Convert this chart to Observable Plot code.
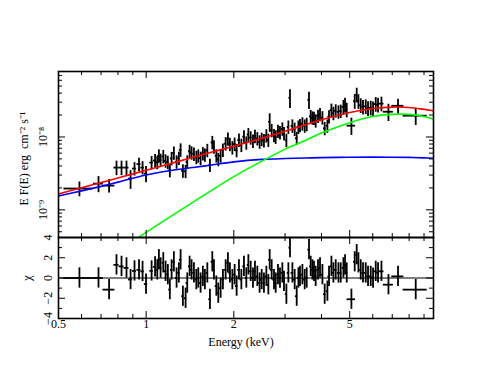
<!DOCTYPE html>
<html><head><meta charset="utf-8">
<script src="https://cdn.jsdelivr.net/npm/d3@7"></script>
<script src="https://cdn.jsdelivr.net/npm/@observablehq/plot@0.6"></script>
<style>
body{margin:0;background:#fff;}
#chart{position:relative;width:491px;height:379px;}
#chart svg{position:absolute;left:0;top:0;}
</style></head><body><div id="chart"></div>
<script>
// ---------------- data ----------------
const FLUX_UNIT = 1e-9; // flux arrays are in units of 1e-9 erg cm^-2 s^-1

const energy = [
0.590,0.686,0.746,0.791,0.823,0.856,0.884,0.912,0.945,0.972,0.999,1.044,1.073,
1.092,1.106,1.121,1.145,1.166,1.187,1.206,1.223,1.245,1.272,1.295,1.313,1.337,1.366,1.384,1.410,1.432,1.459,1.487,1.510,1.538,1.566,1.591,1.622,1.656,1.687,1.709,1.742,1.769,1.802,1.835,1.875,1.909,1.939,1.977,2.013,2.045,2.083,2.123,2.167,2.208,2.244,
2.285,2.327,2.364,2.409,2.453,2.493,2.538,2.587,2.628,2.656,2.698,2.748,2.785,2.836,2.881,2.936,2.974,3.031,3.079,3.118,3.178,3.236,3.288,3.333,3.375,3.440,3.503,3.559,3.624,3.673,3.723,3.770,3.821,3.892,3.954,4.030,4.103,4.192,4.246,4.327,4.396,4.477,4.574,4.658,
4.758,4.819,4.884,5.068,5.202,5.285,5.357,5.455,5.555,5.676,5.780,5.905,6.014,6.143,6.256,6.427,6.793,7.327,8.428];

const binHalfWidth = [
0.068,0.027,0.035,0.016,0.016,0.017,0.014,0.014,0.015,0.013,0.013,0.014,0.014,
0.011,0.011,0.011,0.011,0.011,0.011,0.011,0.011,0.011,0.011,0.011,0.013,0.013,0.013,0.013,0.013,0.013,0.013,0.013,0.013,0.013,0.013,0.013,0.016,0.016,0.016,0.016,0.016,0.016,0.016,0.016,0.016,0.016,0.016,0.016,0.020,0.020,0.020,0.020,0.020,0.020,0.020,
0.023,0.023,0.023,0.023,0.023,0.023,0.023,0.023,0.023,0.023,0.027,0.027,0.027,0.027,0.027,0.027,0.027,0.027,0.027,0.027,0.032,0.032,0.032,0.032,0.032,0.032,0.032,0.032,0.032,0.032,0.038,0.038,0.038,0.038,0.038,0.038,0.038,0.038,0.038,0.038,0.043,0.043,0.043,0.043,
0.046,0.046,0.046,0.170,0.045,0.045,0.047,0.048,0.050,0.052,0.053,0.055,0.057,0.060,0.060,0.130,0.270,0.350,0.800];

const flux = [
1.96,2.29,2.15,3.80,3.80,3.80,2.68,3.68,4.24,3.80,3.14,4.45,4.74,
4.49,5.50,4.80,5.40,4.70,4.50,3.47,5.08,6.04,4.56,5.12,6.65,3.43,3.38,4.56,6.36,6.06,5.83,5.26,5.51,5.12,5.92,5.67,6.55,4.10,8.42,7.34,5.53,4.93,5.53,6.60,8.09,9.42,7.94,7.15,7.99,6.55,9.06,7.71,10.1,8.30,10.8,
9.77,8.81,10.2,9.50,8.57,9.31,8.93,10.4,9.05,16.2,12.3,10.5,10.0,12.0,11.5,12.9,11.2,9.01,13.7,34.5,14.2,12.8,9.60,13.7,14.4,15.2,14.2,14.9,32.4,19.2,18.3,18.1,16.7,19.3,20.4,18.4,13.1,14.2,19.0,23.4,21.1,22.9,22.1,22.7,
25.8,27.7,23.7,14.3,31.0,38.0,31.0,27.2,25.9,26.3,24.8,25.2,24.6,28.3,27.6,28.7,22.2,26.8,19.6];

const fluxErr = [
0.45,0.57,0.45,0.86,0.86,0.86,0.77,0.77,0.88,0.79,0.78,0.93,0.99,
0.94,1.15,1.00,1.13,0.98,0.94,0.72,1.06,1.26,0.95,1.07,1.39,0.72,0.70,0.95,1.33,1.26,1.22,1.10,1.15,1.07,1.23,1.18,1.37,0.85,1.76,1.53,1.15,1.03,1.15,1.38,1.69,1.96,1.66,1.49,1.67,1.37,1.89,1.61,2.11,1.73,2.25,
2.04,1.84,2.13,1.98,1.79,1.94,1.86,2.17,1.89,4.60,2.56,2.19,2.09,2.50,2.40,2.69,2.34,1.88,2.86,9.90,2.96,2.67,2.00,2.86,3.00,3.17,2.96,3.11,8.60,4.00,3.82,3.77,3.48,4.02,4.25,3.84,2.73,2.96,3.96,4.88,4.40,4.77,4.61,4.73,
5.87,6.30,5.39,3.80,7.06,8.65,7.06,6.19,5.89,5.99,5.64,5.74,5.60,6.44,6.28,6.53,5.90,6.10,5.20];

const chi = [
0.0,0.0,-1.15,1.3,1.15,1.0,-0.15,0.7,0.8,0.65,-0.6,0.7,1.1,
0.8,1.8,1.0,1.5,0.66,0.33,-1.15,0.8,1.6,0,0.5,1.8,-1.8,-2.0,-0.5,1.15,0.8,0.5,-0.16,0,-0.5,0.16,-0.16,0.5,-2.1,1.6,0.8,-0.8,-1.5,-1.0,-0.16,0.8,1.5,0.5,-0.16,0.33,-0.8,0.8,-0.16,1.15,0,1.3,
0.66,0,0.66,0.16,-0.5,-0.16,-0.5,0.16,-0.66,1.8,0.8,-0.16,-0.5,0.33,0,0.5,-0.33,-1.6,0.5,3.0,0.5,-0.16,-1.8,0,0.16,0.33,-0.16,0,2.8,1.15,0.8,0.66,0.16,0.8,1.0,0.33,-1.6,-1.3,0.16,1.15,0.5,0.8,0.5,0.5,
1.0,1.3,0.5,-2.1,1.6,2.3,1.5,0.8,0.5,0.5,0.16,0.16,0,0.66,0.5,0.66,-0.66,0.16,-1.15];

// model components
const modelEnergy   = [0.5,0.6,0.7,0.8,1.0,1.3,1.6,2.0,2.5,3.0,3.5,4.0,5.0,6.0,7.0,8.0,9.0,9.7];
const totalModel    = [1.65,2.01,2.37,2.74,3.50,4.66,5.87,7.48,9.63,12.0,14.6,17.2,21.7,24.6,25.7,25.4,23.9,22.9];
const powerlawModel = [1.55,1.82,2.10,2.40,3.01,3.60,4.01,4.55,4.92,5.06,5.14,5.21,5.27,5.29,5.27,5.24,5.17,5.11];
const bbodyEnergy   = [0.8,1.0,1.3,1.6,2.0,2.5,3.0,3.5,4.0,5.0,6.0,7.0,8.0,9.0,9.7];
const bbodyModel    = [0.267,0.490,0.966,1.64,2.86,4.66,6.81,8.90,11.3,15.7,19.1,20.4,20.4,19.1,17.6];

// axes
const xDomain = [0.5, 9.7];
const fluxDomain = [4.17e-10, 7.92e-8];
const chiDomain = [-4, 4];
const xMajor = [0.5, 1, 2, 5];
const xTickLabels = ["0.5", "1", "2", "5"];
const xMinor = [0.6, 0.7, 0.8, 0.9, 3, 4, 6, 7, 8, 9];
const fluxMajor = [1e-9, 1e-8];
const fluxTickLabels = ["10\u207B\u2079", "10\u207B\u2078"];
const fluxMinor = [5e-10,6e-10,7e-10,8e-10,9e-10,2e-9,3e-9,4e-9,5e-9,6e-9,7e-9,8e-9,9e-9,2e-8,3e-8,4e-8,5e-8,6e-8,7e-8];
const chiMajor = [-4, -2, 0, 2, 4];
const chiTickLabels = ["\u22124", "\u22122", "0", "2", "4"];
const chiMinor = [-3, -1, 1, 3];
const xLabel = "Energy (keV)";
const fluxLabel = "E F(E) erg  cm\u207B\u00B2 s\u207B\u00B9";
const chiLabel = "\u03C7";

// ---------------- layout ----------------
const W = 491, H = 379, ML = 58, MR = 58, TOP = 71, MID = 237, BOT = 318;
const fw = W - ML - MR, fhTop = MID - TOP, fhBot = BOT - MID;
const MAJ = 7, MIN = 4;
const font = "'Liberation Serif','Times New Roman',serif";

const pts = energy.map((e, i) => ({
  e, lo: e - binHalfWidth[i], hi: e + binHalfWidth[i],
  f: flux[i] * FLUX_UNIT, s: fluxErr[i] * FLUX_UNIT, chi: chi[i]
}));
const totalPts = modelEnergy.map((e, i) => ({e, f: totalModel[i] * FLUX_UNIT}));
const plPts = modelEnergy.map((e, i) => ({e, f: powerlawModel[i] * FLUX_UNIT}));
const bbPts = bbodyEnergy.map((e, i) => ({e, f: bbodyModel[i] * FLUX_UNIT}));

function frameTicks(fh, yMajor, yMinor) {
  const sw = 1;
  return [
    Plot.tickX(xMajor, {x: d => d, insetTop: fh - MAJ, strokeWidth: sw}),
    Plot.tickX(xMinor, {x: d => d, insetTop: fh - MIN, strokeWidth: sw}),
    Plot.tickX(xMajor, {x: d => d, insetBottom: fh - MAJ, strokeWidth: sw}),
    Plot.tickX(xMinor, {x: d => d, insetBottom: fh - MIN, strokeWidth: sw}),
    Plot.tickY(yMajor, {y: d => d, insetRight: fw - MAJ, strokeWidth: sw}),
    Plot.tickY(yMinor, {y: d => d, insetRight: fw - MIN, strokeWidth: sw}),
    Plot.tickY(yMajor, {y: d => d, insetLeft: fw - MAJ, strokeWidth: sw}),
    Plot.tickY(yMinor, {y: d => d, insetLeft: fw - MIN, strokeWidth: sw})
  ];
}

const style = {fontFamily: font, fontSize: "12px", background: "transparent", overflow: "visible"};
const BAR = 1.8;

const topPlot = Plot.plot({
  width: W, height: H,
  marginLeft: ML, marginRight: MR, marginTop: TOP, marginBottom: H - MID,
  x: {type: "log", domain: xDomain, axis: null},
  y: {type: "log", domain: fluxDomain, axis: null},
  style,
  marks: [
    Plot.ruleX(pts, {x: "e", y1: d => d.f - d.s, y2: d => d.f + d.s, stroke: "#000", strokeWidth: BAR, clip: true}),
    Plot.ruleY(pts, {y: "f", x1: "lo", x2: "hi", stroke: "#000", strokeWidth: BAR, clip: true}),
    Plot.line(plPts, {x: "e", y: "f", stroke: "#0000ff", strokeWidth: 1.6, curve: "catmull-rom", clip: true}),
    Plot.line(bbPts, {x: "e", y: "f", stroke: "#00ff00", strokeWidth: 1.6, curve: "catmull-rom", clip: true}),
    Plot.line(totalPts, {x: "e", y: "f", stroke: "#ff0000", strokeWidth: 1.6, curve: "catmull-rom", clip: true}),
    ...frameTicks(fhTop, fluxMajor, fluxMinor),
    Plot.frame({stroke: "#000", strokeWidth: 1.6}),
    Plot.text(fluxMajor, {y: d => d, text: (d, i) => fluxTickLabels[i], frameAnchor: "left", textAnchor: "middle", dx: -15, rotate: -90, fontSize: 12}),
    Plot.text([fluxLabel], {text: d => d, frameAnchor: "left", textAnchor: "middle", dx: -34, dy: 4, rotate: -90, fontSize: 12})
  ]
});

const botPlot = Plot.plot({
  width: W, height: H,
  marginLeft: ML, marginRight: MR, marginTop: MID, marginBottom: H - BOT,
  x: {type: "log", domain: xDomain, axis: null},
  y: {type: "linear", domain: chiDomain, axis: null},
  style,
  marks: [
    Plot.ruleY([0], {stroke: "#000", strokeWidth: 1}),
    Plot.ruleX(pts, {x: "e", y1: d => d.chi - 1, y2: d => d.chi + 1, stroke: "#000", strokeWidth: BAR, clip: true}),
    Plot.ruleY(pts, {y: "chi", x1: "lo", x2: "hi", stroke: "#000", strokeWidth: BAR, clip: true}),
    ...frameTicks(fhBot, chiMajor, chiMinor),
    Plot.frame({stroke: "#000", strokeWidth: 1.6}),
    Plot.text(chiMajor, {y: d => d, text: (d, i) => chiTickLabels[i], frameAnchor: "left", textAnchor: "middle", dx: -10, rotate: -90, fontSize: 12}),
    Plot.text([chiLabel], {text: d => d, frameAnchor: "left", textAnchor: "middle", dx: -32, rotate: -90, fontSize: 13}),
    Plot.text(xMajor, {x: d => d, text: (d, i) => xTickLabels[i], frameAnchor: "bottom", dy: 9.5, fontSize: 12}),
    Plot.text([xLabel], {text: d => d, frameAnchor: "bottom", dx: -5, dy: 27, fontSize: 12})
  ]
});

const host = document.getElementById("chart");
host.appendChild(topPlot);
host.appendChild(botPlot);
</script></body></html>
